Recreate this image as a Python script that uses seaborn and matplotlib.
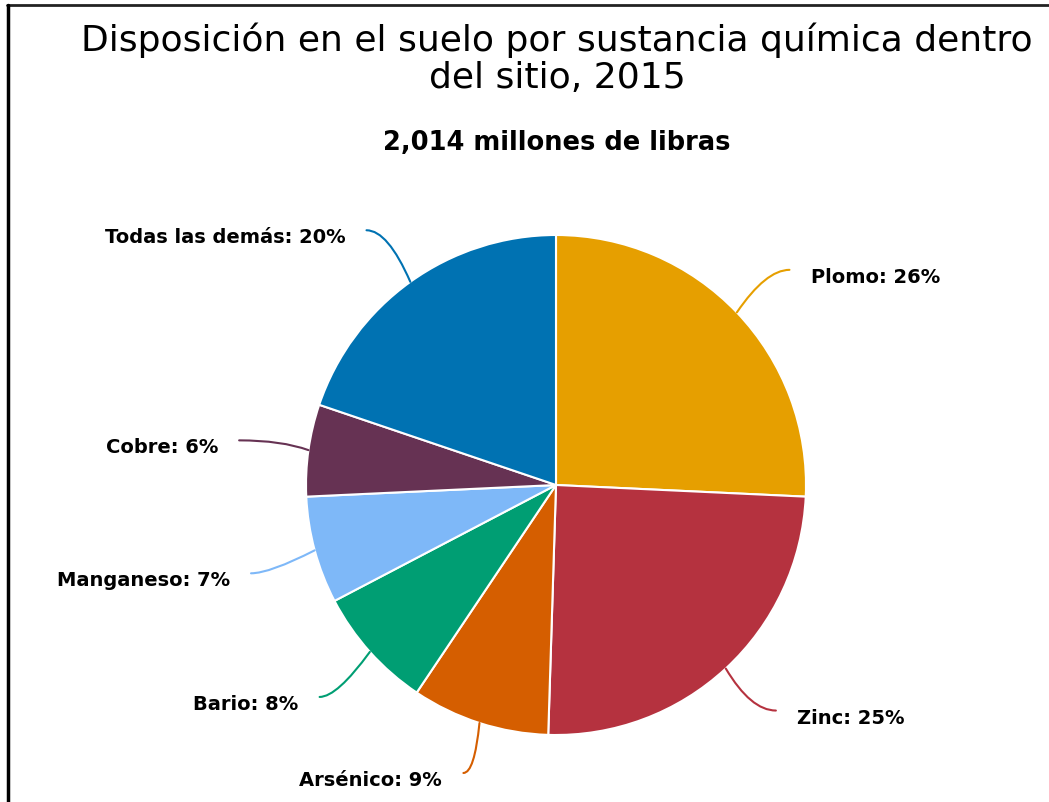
import numpy as np
import matplotlib
matplotlib.use("Agg")
import matplotlib.pyplot as plt
from matplotlib.lines import Line2D
import seaborn as sns

sns.set_theme(style="white")
plt.rcParams['font.family'] = ['DejaVu Sans']

# data
categories = ['Plomo', 'Zinc', 'Arsénico', 'Bario', 'Manganeso', 'Cobre', 'Todas las demás']
percents = [26, 25, 9, 8, 7, 6, 20]
colors = sns.color_palette(['#E69F00', '#B5323F', '#D55E00', '#009E73',
                            '#7EB8F8', '#663253', '#0072B2'])

title = 'Disposición en el suelo por sustancia química dentro\ndel sitio, 2015'
subtitle = '2,014 millones de libras'

W, H = 1049, 802
fig = plt.figure(figsize=(W / 100, H / 100), dpi=100)
fig.patch.set_facecolor('white')

# pie: centre (556, 485) px, radius 250 px
cx, cy, r = 556, 485, 250
ax = fig.add_axes([(cx - r) / W, (H - cy - r) / H, 2 * r / W, 2 * r / H])
wedges, _ = ax.pie(percents, colors=colors, startangle=90, counterclock=False,
                   radius=1, wedgeprops=dict(edgecolor='white', linewidth=1.5))
ax.set_xlim(-1, 1)
ax.set_ylim(-1, 1)
ax.set_aspect('equal')
ax.axis('off')

# labels with curved leader lines
label_r = [1.27, 1.26, 1.21, 1.27, 1.27, 1.28, 1.27]
label_shift = [-1.0, 1.5, 0, 0, 1.0, 0, 1.0]   # degrees
for w, name, p, col, lr, sh in zip(wedges, categories, percents, colors, label_r, label_shift):
    mid = (w.theta1 + w.theta2) / 2
    ang = np.deg2rad(mid)
    ex, ey = np.cos(ang), np.sin(ang)
    la = np.deg2rad(mid + sh)
    tx, ty = lr * np.cos(la), lr * np.sin(la)
    bend = 12 * np.sign(np.sin(2 * ang))
    ax.annotate('', xy=(ex, ey), xytext=(tx, ty),
                arrowprops=dict(arrowstyle='-', color=col, lw=1.5,
                                shrinkA=0, shrinkB=0,
                                connectionstyle=f'angle3,angleA=0,angleB={mid + bend:.1f}'),
                annotation_clip=False)
    side = 1 if ex > 0 else -1
    ax.text(tx + side * 0.085, ty - 0.03, f'{name}: {p}%',
            ha='left' if side > 0 else 'right', va='center',
            fontsize=14, fontweight='bold', color='black', clip_on=False)

fig.text(557 / W, 1 - 22 / H, title, ha='center', va='top',
         fontsize=26, color='black', linespacing=1.12)
fig.text(557 / W, 1 - 143 / H, subtitle, ha='center', va='center',
         fontsize=18.5, fontweight='bold', color='black')

# frame lines (top and left)
fig.add_artist(Line2D([7 / W, 1], [1 - 5 / H, 1 - 5 / H], color='#222222', lw=2,
                      transform=fig.transFigure))
fig.add_artist(Line2D([8 / W, 8 / W], [0, 1 - 5 / H], color='black', lw=2.5,
                      transform=fig.transFigure))

fig.savefig('out.png', dpi=100)
